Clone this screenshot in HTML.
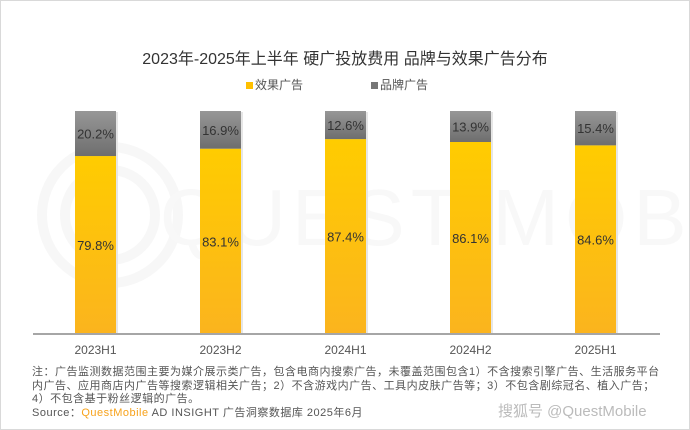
<!DOCTYPE html>
<html><head><meta charset="utf-8"><style>
body{margin:0;width:690px;height:430px;overflow:hidden;background:#fff;font-family:"Liberation Sans","Noto Sans CJK SC",sans-serif;}
#wrap{position:absolute;left:0;top:0;width:688px;height:428px;border:1px solid #d9d9d9;}
.t{position:absolute;white-space:nowrap;}
</style></head><body>
<div id="wrap"></div>
<svg width="690" height="430" style="position:absolute;left:0;top:0">
<defs>
<linearGradient id="gy" x1="0" y1="0" x2="0" y2="1"><stop offset="0" stop-color="#ffcc00"/><stop offset="1" stop-color="#fbb41e"/></linearGradient>
<linearGradient id="gg" x1="0" y1="0" x2="0" y2="1"><stop offset="0" stop-color="#979797"/><stop offset="1" stop-color="#6e6e6e"/></linearGradient>
</defs>
<g fill="none" stroke="#f7f7f7" stroke-width="10">
<circle cx="110" cy="215" r="68"/><circle cx="110" cy="215" r="45"/>
<text x="160" y="245" font-size="80" fill="#f8f8f8" stroke="none" font-family="Liberation Sans" letter-spacing="6">QUEST MOBILE</text>
</g>
<g id="bars"></g>
<line x1="33" y1="334" x2="660" y2="334" stroke="#a6a6a6" stroke-width="2"/>
</svg>
<div class="t" style="left:0;width:690px;text-align:center;top:45px;font-size:16px;color:#333">2023年-2025年上半年 硬广投放费用 品牌与效果广告分布</div>
<div class="t" style="left:246px;top:76px;font-size:12px;color:#555"><span style="display:inline-block;width:7px;height:7px;background:#ffc000;margin-right:2px"></span>效果广告</div>
<div class="t" style="left:371px;top:76px;font-size:12px;color:#555"><span style="display:inline-block;width:7px;height:7px;background:#777;margin-right:2px"></span>品牌广告</div>
<div class="t" style="left:32px;top:366px;font-size:11px;color:#555;line-height:13.5px;letter-spacing:0.5px">注：广告监测数据范围主要为媒介展示类广告，包含电商内搜索广告，未覆盖范围包含1）不含搜索引擎广告、生活服务平台<br>内广告、应用商店内广告等搜索逻辑相关广告；2）不含游戏内广告、工具内皮肤广告等；3）不包含剧综冠名、植入广告；<br>4）不包含基于粉丝逻辑的广告。<br>Source：<span style="color:#f7a21b">QuestMobile</span> AD INSIGHT 广告洞察数据库 2025年6月</div>
<div class="t" style="left:498px;top:400px;font-size:15px;color:#bbb">搜狐号 @QuestMobile</div>
<script>
const categories=["2023H1","2023H2","2024H1","2024H2","2025H1"];
const effectValues=[79.8,83.1,87.4,86.1,84.6];
const brandValues=[20.2,16.9,12.6,13.9,15.4];
const NS="http://www.w3.org/2000/svg";
const g=document.getElementById('bars');
const x0=75,step=125,bw=41,base=334,top0=111;
const xs=i=>x0+i*step;
const ys=v=>(base-top0)*v/100;
function mk(tag,attrs){const e=document.createElementNS(NS,tag);for(const k in attrs)e.setAttribute(k,attrs[k]);return e;}
categories.forEach((c,i)=>{
  const x=xs(i);const he=ys(effectValues[i]);const hb=ys(brandValues[i]);
  const sh=mk('rect',{x:x+2,y:base-he-hb+1,width:bw,height:he+hb-1,fill:'#e6e6e6'});
  
  
  g.appendChild(sh);
  const ry=mk('rect',{x:x,y:base-he,width:bw,height:he,fill:'url(#gy)'});
  
  
  g.appendChild(ry);
  const rb=mk('rect',{x:x,y:base-he-hb,width:bw,height:hb,fill:'url(#gg)'});
  
  
  g.appendChild(rb);
  const t1=mk('text',{x:x+bw/2,y:base-he/2+5,'text-anchor':'middle','font-size':'13','fill':'#333','font-family':'Liberation Sans'});
  t1.textContent=effectValues[i].toFixed(1)+'%';
  
  
  g.appendChild(t1);
  const t2=mk('text',{x:x+bw/2,y:base-he-hb/2+5,'text-anchor':'middle','font-size':'13','fill':'#333','font-family':'Liberation Sans'});
  t2.textContent=brandValues[i].toFixed(1)+'%';
  
  
  g.appendChild(t2);
  const t3=mk('text',{x:x+bw/2,y:354,'text-anchor':'middle','font-size':'12','fill':'#555','font-family':'Liberation Sans'});
  t3.textContent=c;
  
  
  g.appendChild(t3);
});
</script>
</body></html>
